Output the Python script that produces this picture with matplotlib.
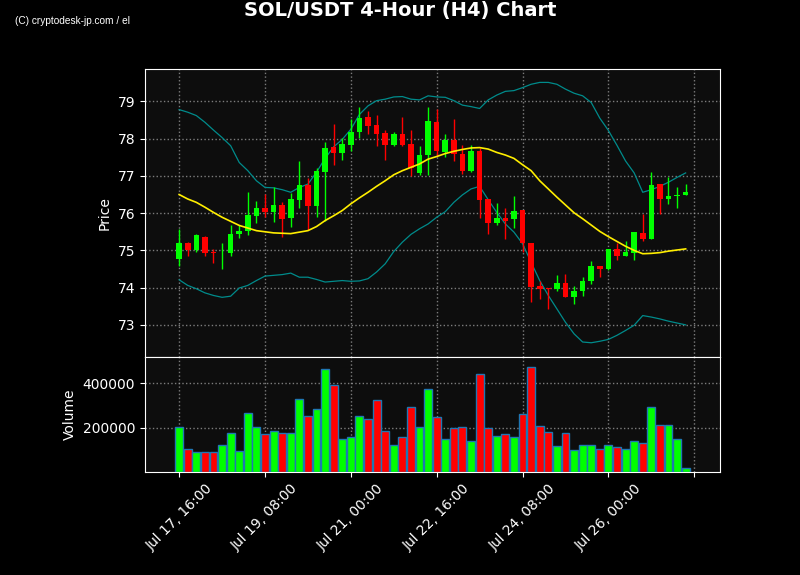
import numpy as np
import matplotlib
matplotlib.use('Agg')
import matplotlib.pyplot as plt

# OHLC (60 candles)
opens = [74.76, 75.20, 75.01, 75.36, 74.96, 74.95, 74.94, 75.43, 75.51, 75.93,
         76.14, 76.03, 76.22, 75.88, 76.36, 76.76, 76.20, 77.11, 77.78, 77.62,
         77.84, 78.18, 78.57, 78.37, 78.15, 77.84, 78.12, 77.86, 77.08, 77.56,
         78.45, 77.65, 77.97, 77.58, 77.14, 77.67, 76.38, 75.73, 75.87, 75.83,
         76.09, 75.20, 74.05, 73.99, 73.95, 74.13, 73.76, 73.90, 74.17, 74.59,
         74.50, 75.04, 74.86, 74.94, 75.47, 75.31, 76.77, 76.38, 76.47, 76.50]
closes = [75.20, 75.01, 75.40, 74.94, 74.94, 74.96, 75.44, 75.52, 75.95, 76.14,
          76.03, 76.22, 75.85, 76.38, 76.76, 76.20, 77.13, 77.75, 77.62, 77.86,
          78.18, 78.55, 78.35, 78.13, 77.84, 78.12, 77.84, 77.21, 77.56, 78.47,
          77.67, 77.97, 77.58, 77.14, 77.67, 76.36, 75.73, 75.87, 75.80, 76.06,
          75.19, 74.03, 73.95, 73.97, 74.13, 73.76, 73.92, 74.18, 74.59, 74.51,
          75.04, 74.86, 74.96, 75.50, 75.31, 76.76, 76.38, 76.46, 76.49, 76.57]
highs = [75.58, 75.22, 75.44, 75.38, 75.04, 75.20, 75.68, 75.67, 76.56, 76.32,
         76.52, 76.69, 76.29, 76.54, 77.39, 76.94, 77.22, 77.90, 78.38, 78.02,
         78.54, 78.86, 78.73, 78.63, 78.24, 78.19, 78.57, 78.23, 77.81, 78.84,
         78.79, 78.12, 78.53, 77.83, 77.83, 77.76, 76.38, 76.27, 76.13, 76.45,
         76.09, 75.20, 74.18, 74.00, 74.33, 74.36, 74.04, 74.28, 74.71, 74.59,
         75.04, 75.20, 75.26, 75.50, 75.97, 77.10, 76.77, 76.98, 76.69, 76.77]
lows = [74.59, 74.84, 74.97, 74.86, 74.67, 74.49, 74.84, 75.33, 75.42, 75.73,
        75.89, 75.76, 75.35, 75.62, 76.13, 75.56, 75.89, 75.80, 77.29, 77.43,
        77.66, 78.01, 78.12, 77.79, 77.42, 77.79, 77.79, 76.99, 77.03, 77.03,
        77.53, 77.50, 77.41, 77.04, 77.10, 75.86, 75.44, 75.69, 75.31, 75.60,
        74.97, 73.61, 73.70, 73.43, 73.92, 73.76, 73.57, 73.77, 74.09, 74.28,
        74.48, 74.73, 74.84, 74.73, 75.24, 75.31, 75.97, 76.24, 76.13, 76.50]

# indicator lines (20 SMA + Bollinger bands) as drawn
ma = [76.50, 76.38, 76.29, 76.16, 76.02, 75.89, 75.78, 75.67, 75.60, 75.53,
      75.50, 75.47, 75.46, 75.45, 75.49, 75.53, 75.64, 75.80, 75.93, 76.07,
      76.25, 76.41, 76.56, 76.72, 76.87, 77.03, 77.14, 77.23, 77.32, 77.45,
      77.52, 77.60, 77.66, 77.71, 77.75, 77.76, 77.72, 77.63, 77.56, 77.47,
      77.30, 77.14, 76.87, 76.65, 76.43, 76.22, 76.01, 75.85, 75.68, 75.51,
      75.37, 75.24, 75.11, 75.00, 74.91, 74.92, 74.94, 74.98, 75.01, 75.04]
bb_upper = [78.78, 78.71, 78.62, 78.44, 78.23, 78.03, 77.81, 77.36, 77.14, 76.87,
            76.69, 76.68, 76.63, 76.56, 76.69, 76.78, 77.10, 77.47, 77.78, 77.98,
            78.25, 78.65, 78.88, 79.02, 79.06, 79.12, 79.13, 79.06, 79.04, 79.15,
            79.12, 79.11, 79.02, 78.90, 78.86, 78.81, 79.04, 79.17, 79.27, 79.29,
            79.37, 79.46, 79.51, 79.51, 79.46, 79.33, 79.22, 79.15, 78.97, 78.55,
            78.22, 77.82, 77.40, 77.08, 76.56, 76.63, 76.72, 76.83, 76.96, 77.08]
bb_lower = [74.21, 74.06, 73.97, 73.86, 73.79, 73.74, 73.77, 73.99, 74.06, 74.19,
            74.31, 74.33, 74.35, 74.39, 74.28, 74.28, 74.22, 74.15, 74.17, 74.19,
            74.17, 74.18, 74.24, 74.42, 74.64, 74.97, 75.22, 75.43, 75.58, 75.71,
            75.89, 76.04, 76.29, 76.49, 76.65, 76.72, 76.36, 76.02, 75.71, 75.49,
            75.18, 74.68, 74.19, 73.79, 73.43, 73.07, 72.76, 72.54, 72.52, 72.56,
            72.61, 72.72, 72.85, 72.99, 73.25, 73.21, 73.16, 73.10, 73.05, 73.00]

volumes = [204, 102, 89, 89, 89, 120, 178, 93, 267, 204,
           173, 187, 178, 178, 329, 253, 284, 462, 391, 147,
           160, 253, 240, 324, 187, 120, 156, 293, 204, 373,
           249, 151, 200, 204, 142, 440, 200, 164, 173, 156,
           262, 471, 209, 182, 116, 178, 98, 120, 124, 102,
           124, 111, 102, 138, 129, 293, 213, 213, 147, 18]
volumes = [v * 1000 for v in volumes]

tick_labels = ['Jul 17, 16:00', 'Jul 19, 08:00', 'Jul 21, 00:00',
               'Jul 22, 16:00', 'Jul 24, 08:00', 'Jul 26, 00:00', '']

UP = '#00ff00'
DOWN = '#ff0000'

x = np.arange(len(opens))
o = np.array(opens)
c = np.array(closes)
up = c >= o
colors = np.where(up, UP, DOWN)

fig, (ax, axv) = plt.subplots(2, 1, figsize=(8, 5.75), dpi=100, sharex=True,
                              gridspec_kw={'height_ratios': [5, 2], 'hspace': 0})
fig.patch.set_facecolor('black')
fig.subplots_adjust(left=0.181, right=0.9, top=0.88, bottom=0.179)

# candles
ax.vlines(x, lows, highs, color=colors, linewidth=1, zorder=3)
body_bottom = np.minimum(o, c)
body_height = np.maximum(np.abs(c - o), 0.02)
ax.bar(x, body_height, bottom=body_bottom, width=0.65, color=colors, zorder=4)

ax.plot(x, ma, color='#ffee00', linewidth=1.2, zorder=5)
ax.plot(x, bb_upper, color='#008b8b', linewidth=0.9, zorder=2)
ax.plot(x, bb_lower, color='#008b8b', linewidth=0.9, zorder=2)

ax.set_ylim(72.14, 79.87)
ax.set_ylabel('Price', color='white')

# volume
axv.bar(x, volumes, width=0.92, color=colors, edgecolor='#1f77b4', linewidth=1, zorder=3)
axv.set_ylim(0, max(volumes) * 1.1)
axv.set_yticks([200000, 400000])
axv.set_ylabel('Volume', color='white')

axv.set_xlim(-4, 63)
axv.set_xticks(np.arange(0, 61, 10))
axv.set_xticklabels(tick_labels, rotation=45)

for a in (ax, axv):
    a.set_facecolor('#0d0d0d')
    a.grid(True, color='#999999', linestyle=':', linewidth=1, alpha=0.8)
    a.set_axisbelow(True)
    a.tick_params(colors='white', labelsize=10)
    for s in a.spines.values():
        s.set_color('white')
ax.tick_params(axis='x', length=0)

fig.text(0.5, 0.981, 'SOL/USDT 4-Hour (H4) Chart', color='white',
         fontsize=14, fontweight='bold', ha='center', va='center')
fig.text(0.019, 0.963, '(C) cryptodesk-jp.com / el', color='white',
         fontsize=7.3, family='Liberation Sans', ha='left', va='center')

fig.savefig('out.png', dpi=100, facecolor=fig.get_facecolor())
